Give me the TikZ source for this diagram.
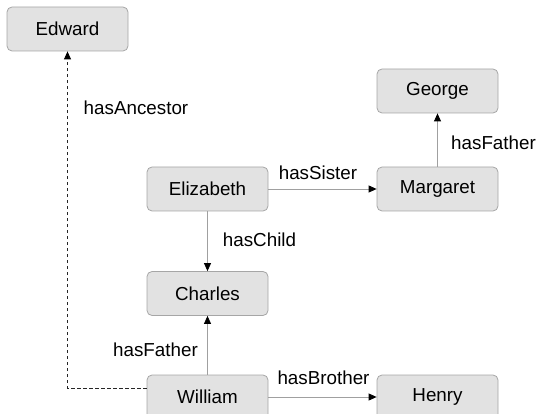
\documentclass[tikz,border=0pt]{standalone}
\usepackage{fontspec}
\setmainfont{Liberation Sans}
\usetikzlibrary{arrows.meta}
\definecolor{boxfill}{HTML}{E2E2E2}
\definecolor{boxline}{HTML}{A6A6A6}
\definecolor{edgeline}{HTML}{A0A0A0}
\tikzset{
  person/.style={draw=boxline, fill=boxfill, rounded corners=5pt, minimum width=121pt, minimum height=44pt, inner sep=0pt, line width=0.8pt, font=\fontsize{18.8}{22}\selectfont},
  rel/.style={draw=edgeline, line width=0.8pt, -{Triangle[length=8pt,width=7pt,color=black]}},
  anc/.style={draw=black!85, line width=0.8pt, dash pattern=on 3.5pt off 2.5pt, -{Triangle[length=8pt,width=7pt,color=black]}},
  lbl/.style={inner sep=0pt, font=\fontsize{18.8}{22}\selectfont}
}
\begin{document}
\begin{tikzpicture}[x=1pt,y=-1pt]
\useasboundingbox (0,0) rectangle (538,414);
\node[person] (edward) at (67.5,29) {Edward};
\node[person] (george) at (437.5,91) {George};
\node[person] (elizabeth) at (207.5,189) {Elizabeth};
\node[person] (margaret) at (437.5,189) {Margaret};
\node[person] (charles) at (207.5,293.5) {Charles};
\node[person] (william) at (207.5,397) {William};
\node[person] (henry) at (437.5,397) {Henry};
\coordinate (wl) at ([yshift=9pt]william.west);
\draw[anc] (wl) -| (edward.south);
\draw[rel] (elizabeth) -- (margaret);
\draw[rel] (margaret) -- (george);
\draw[rel] (elizabeth) -- (charles);
\draw[rel] (william) -- (charles);
\draw[rel] (william) -- (henry);
\node[lbl] (l1) at (136,108) {hasAncestor};
\node[lbl] (l2) at (318,173) {hasSister};
\node[lbl] (l3) at (259.5,240) {hasChild};
\node[lbl,anchor=west] (l4) at (451,143) {hasFather};
\node[lbl] (l5) at (155.5,350) {hasFather};
\node[lbl] (l6) at (323.5,378) {hasBrother};
\end{tikzpicture}
\end{document}
